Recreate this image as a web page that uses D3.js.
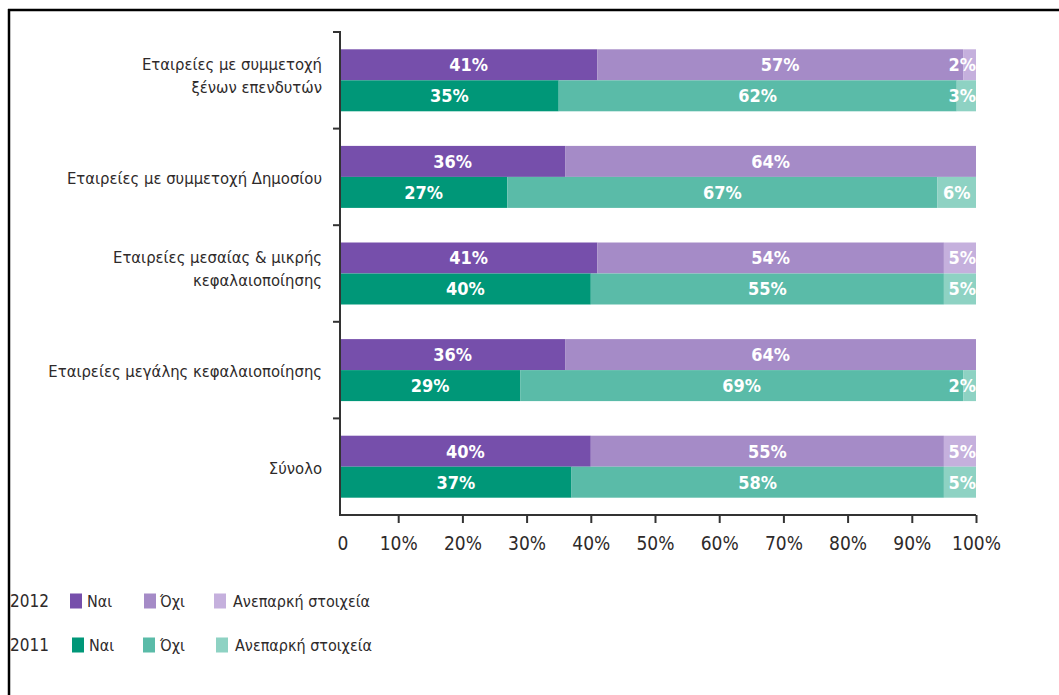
<!DOCTYPE html>
<html>
<head>
<meta charset="utf-8">
<script src="https://cdn.jsdelivr.net/npm/d3@7"></script>
<style>
  html, body { margin: 0; padding: 0; background: #fff; }
  svg { display: block; }
  text { font-family: "Liberation Sans Narrow", "DejaVu Sans Condensed", "Noto Sans", sans-serif; }
</style>
</head>
<body>
<svg id="chart" width="1059" height="695"></svg>
<script>
// Categories (each label split into display lines with "|")
const categories = [
  "Εταιρείες με συμμετοχή|ξένων επενδυτών",
  "Εταιρείες με συμμετοχή Δημοσίου",
  "Εταιρείες μεσαίας & μικρής|κεφαλαιοποίησης",
  "Εταιρείες μεγάλης κεφαλαιοποίησης",
  "Σύνολο"
];
const years = ["2012", "2011"];
const answers = ["Ναι", "Όχι", "Ανεπαρκή στοιχεία"];

// Shares (%) per category: Ναι, Όχι, Ανεπαρκή στοιχεία
const values2012 = [
  [41, 57, 2],
  [36, 64, 0],
  [41, 54, 5],
  [36, 64, 0],
  [40, 55, 5]
];
const values2011 = [
  [35, 62, 3],
  [27, 67, 6],
  [40, 55, 5],
  [29, 69, 2],
  [37, 58, 5]
];
const xTicks = [0, 10, 20, 30, 40, 50, 60, 70, 80, 90, 100];

const colors = {
  "2012": ["#764fab", "#a58bc7", "#c5b0dd"],
  "2011": ["#009778", "#5abba8", "#8ed2c3"]
};

const svg = d3.select("#chart");
const textColor = "#2e2a2a";
const axisX = 340;          // position of the vertical axis line
const plotTop = 32, plotBottom = 515;

// Frame lines (top and left)
svg.append("line").attr("x1", 8).attr("x2", 1059).attr("y1", 10).attr("y2", 10)
  .attr("stroke", "#000").attr("stroke-width", 2.5);
svg.append("line").attr("x1", 9).attr("x2", 9).attr("y1", 9).attr("y2", 695)
  .attr("stroke", "#000").attr("stroke-width", 2.5);

const x = d3.scaleLinear().domain([0, 100]).range([334, 976]);
const yOuter = d3.scaleBand().domain(categories).range([plotTop, plotBottom]).padding(0);
const bw = yOuter.bandwidth();
const yInner = d3.scaleBand().domain(years).range([(bw - 62) / 2, (bw + 62) / 2]).padding(0);

// Bars start at the vertical axis line
svg.append("clipPath").attr("id", "plot-clip")
  .append("rect").attr("x", axisX).attr("y", 0).attr("width", 1059 - axisX).attr("height", 695);

const dataByYear = { "2012": values2012, "2011": values2011 };

const groups = svg.append("g").selectAll("g.cat")
  .data(categories)
  .join("g")
  .attr("class", "cat")
  .attr("transform", d => `translate(0,${yOuter(d)})`);

groups.each(function (cat, ci) {
  const g = d3.select(this);
  years.forEach(yr => {
    const vals = dataByYear[yr][ci];
    let acc = 0;
    const segs = vals.map((v, k) => {
      const s = { k, v, x0: acc, x1: acc + v };
      acc += v;
      return s;
    }).filter(s => s.v > 0);
    const total = acc;
    g.append("g").attr("clip-path", "url(#plot-clip)")
      .selectAll("rect")
      .data(segs)
      .join("rect")
      .attr("x", d => x(d.x0))
      .attr("y", yInner(yr))
      .attr("width", d => x(d.x1) - x(d.x0))
      .attr("height", yInner.bandwidth())
      .attr("fill", d => colors[yr][d.k]);
    const mid = d => (Math.max(x(d.x0), axisX) + x(d.x1)) / 2;
    g.selectAll(null)
      .data(segs)
      .join("text")
      .attr("x", d => (x(d.x1) - x(d.x0)) < 34 ? x(total) : mid(d))
      .attr("text-anchor", d => (x(d.x1) - x(d.x0)) < 34 ? "end" : "middle")
      .attr("y", yInner(yr) + yInner.bandwidth() / 2)
      .attr("dy", "0.36em")
      .attr("fill", "#fff")
      .attr("font-size", 18)
      .attr("font-weight", "bold")
      .text(d => d.v + "%");
  });

  // Category label (one or two lines, right aligned)
  const lines = cat.split("|");
  const lh = 23;
  const shift = lines.length > 1 ? -5 : 1;
  const t = g.append("text")
    .attr("text-anchor", "end")
    .attr("fill", textColor)
    .attr("font-size", 16.5);
  lines.forEach((ln, i) => {
    t.append("tspan")
      .attr("x", 322)
      .attr("y", bw / 2 + shift + (i - (lines.length - 1) / 2) * lh)
      .attr("dy", "0.36em")
      .text(ln);
  });
});

// Y axis: vertical line with ticks at band boundaries
const yAxisG = svg.append("g").attr("transform", `translate(${axisX},0)`);
yAxisG.append("line").attr("x1", 0).attr("x2", 0).attr("y1", plotTop - 1).attr("y2", plotBottom + 1)
  .attr("stroke", "#333").attr("stroke-width", 2);
yAxisG.selectAll("line.tick")
  .data(categories.map(c => yOuter(c)))
  .join("line")
  .attr("class", "tick")
  .attr("x1", -7).attr("x2", 0)
  .attr("y1", d => d).attr("y2", d => d)
  .attr("stroke", "#333").attr("stroke-width", 2);

// X axis
const xAxis = d3.axisBottom(x)
  .tickValues(xTicks)
  .tickSize(8)
  .tickSizeOuter(0)
  .tickPadding(14)
  .tickFormat(d => d === 0 ? "0" : d + "%");
const xg = svg.append("g").attr("transform", `translate(0,${plotBottom})`).call(xAxis);
xg.select(".domain")
  .attr("d", `M${axisX},0H${x(100)}`)
  .attr("stroke", "#333").attr("stroke-width", 2);
xg.selectAll(".tick line").attr("stroke", "#333").attr("stroke-width", 2)
  .filter(d => d === 0).remove();
xg.selectAll(".tick").filter(d => d === 0)
  .attr("transform", `translate(${axisX + 3},0)`);
xg.selectAll(".tick text")
  .attr("fill", textColor)
  .attr("font-size", 19)
  .attr("font-family", "\"Liberation Sans Narrow\", \"DejaVu Sans Condensed\", sans-serif");

// Legend
const legendRows = [
  { year: "2012", y: 601, sq: [70, 144, 214], tx: [87, 160, 233] },
  { year: "2011", y: 645, sq: [72, 143, 216], tx: [89, 160, 235] }
];
const legend = svg.append("g");
legendRows.forEach(row => {
  legend.append("text")
    .attr("x", 10).attr("y", row.y).attr("dy", "0.36em")
    .attr("fill", textColor).attr("font-size", 17)
    .text(row.year);
  answers.forEach((a, k) => {
    legend.append("rect")
      .attr("x", row.sq[k]).attr("y", row.y - 7.5)
      .attr("width", 12).attr("height", 15)
      .attr("fill", colors[row.year][k]);
    legend.append("text")
      .attr("x", row.tx[k]).attr("y", row.y).attr("dy", "0.36em")
      .attr("fill", textColor).attr("font-size", 16)
      .text(a);
  });
});
</script>
</body>
</html>
